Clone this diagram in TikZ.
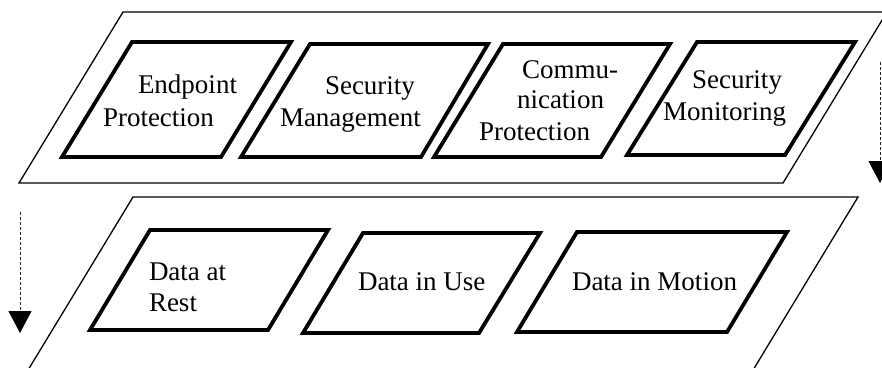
\documentclass[tikz,border=0pt]{standalone}
\usepackage{fontspec}
\setmainfont{Liberation Serif}
\usetikzlibrary{arrows.meta}
\begin{document}
\begin{tikzpicture}[x=1pt,y=-1pt,
  layer/.style={draw=black,line width=1.3pt,line join=miter},
  box/.style={draw=black,line width=3.8pt,line join=miter},
  lbl/.style={anchor=base west,inner sep=0pt,outer sep=0pt,font=\fontsize{27}{32}\selectfont},
  flow/.style={draw=black!85,line width=0.9pt,dash pattern=on 3pt off 2pt,
    -{Triangle[width=23pt,length=22pt,color=black]}}]
\useasboundingbox (0,0) rectangle (882,367);
\clip (0,0) rectangle (882,367);
% outer layers
\draw[layer] (123,12) -- (887,12) -- (783,183) -- (19,183) -- cycle;
\draw[layer] (133,197) -- (858,197) -- (747,380) -- (22,380) -- cycle;
% top row boxes
\draw[box] (132,42) -- (291,42) -- (221,157) -- (62,157) -- cycle;
\draw[box] (310,44) -- (488,44) -- (421,157) -- (241,157) -- cycle;
\draw[box] (503,44) -- (670,44) -- (601,157) -- (434,157) -- cycle;
\draw[box] (697,42) -- (855,42) -- (785,155) -- (627,155) -- cycle;
% bottom row boxes
\draw[box] (150,230) -- (328,230) -- (268,330) -- (90,330) -- cycle;
\draw[box] (363,233) -- (540,233) -- (479,333) -- (303,333) -- cycle;
\draw[box] (577,232) -- (787,232) -- (727,332) -- (517,332) -- cycle;
% labels
\node[lbl] (ep1) at (138,93) {Endpoint};
\node[lbl] (ep2) at (103,126) {Protection};
\node[lbl] (sm1) at (325,94) {Security};
\node[lbl] (sm2) at (280,126) {Management};
\node[lbl] (cp1) at (522,78) {Commu-};
\node[lbl] (cp2) at (517,108) {nication};
\node[lbl] (cp3) at (479,140) {Protection};
\node[lbl] (mo1) at (692,88) {Security};
\node[lbl] (mo2) at (663,120) {Monitoring};
\node[lbl] (dr1) at (149,280) {Data at};
\node[lbl] (dr2) at (149,311) {Rest};
\node[lbl] (du) at (358,290) {Data in Use};
\node[lbl] (dm) at (572,290) {Data in Motion};
% dashed arrows
\coordinate (la) at (20,212);
\coordinate (lb) at (20,333);
\coordinate (ra) at (880,62);
\coordinate (rb) at (880,183);
\draw[flow] (la) -- (lb);
\draw[flow] (ra) -- (rb);
\end{tikzpicture}
\end{document}
